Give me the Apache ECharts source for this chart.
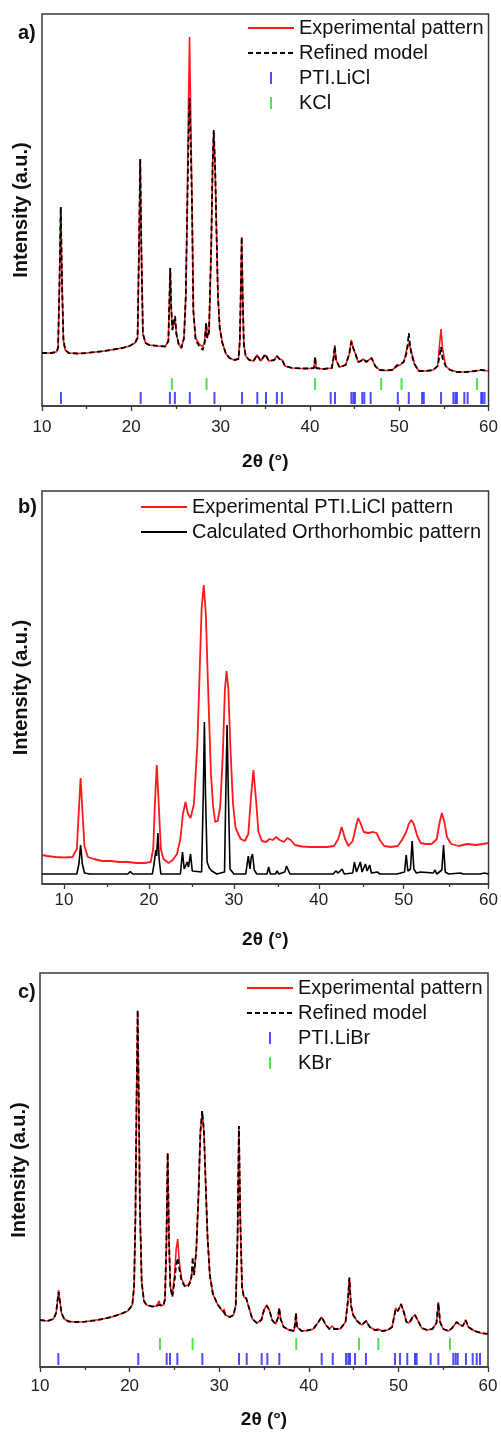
<!DOCTYPE html>
<html><head><meta charset="utf-8">
<script src="https://cdn.jsdelivr.net/npm/echarts@6/dist/echarts.min.js"></script>
<style>html,body{margin:0;padding:0;background:#fff}#c{width:501px;height:1432px}</style>
</head><body><div id="c"></div>
<script>
// ---------- DATA (2θ in degrees, intensity in arbitrary units) ----------
const X_LABELS = [10, 20, 30, 40, 50, 60];
const X_MINOR = [15, 25, 35, 45, 55];

// Panel a) PTI.LiCl refinement
const EXP_A = [[10,53],[11,53],[11.6,54],[11.8,58],[11.95,120],[12.1,199],[12.25,120],[12.4,66],[12.6,56],[13,53],[14,52.5],[15,53],[16,54],[17,55],[18,56.5],[19,58],[19.8,60],[20.4,63],[20.7,68],[20.85,150],[21.0,247],[21.12,160],[21.3,72],[21.6,63],[22,61],[23,60],[23.8,59.5],[24.15,65],[24.25,100],[24.36,138],[24.46,100],[24.6,76],[24.75,82],[24.9,88],[25.05,72],[25.3,62],[25.6,58],[25.9,68],[26.1,110],[26.25,190],[26.4,300],[26.52,369],[26.64,300],[26.8,200],[26.95,95],[27.2,68],[27.6,62],[28.0,59],[28.2,64],[28.38,83],[28.5,68],[28.7,74],[28.95,160],[29.1,240],[29.23,274],[29.38,240],[29.55,170],[29.7,110],[29.9,78],[30.2,63],[30.6,52],[31,48],[31.5,46],[32,47],[32.15,65],[32.25,110],[32.36,169],[32.47,110],[32.6,62],[32.8,50],[33.2,46],[33.7,45],[34.07,51],[34.5,45],[35.0,51],[35.4,45],[36.0,46],[36.3,50],[36.6,47],[36.9,46],[37.2,40],[38,38],[39,37.5],[40,37.5],[40.45,38],[40.58,49],[40.7,38],[41.5,37],[42.45,38],[42.65,48],[42.78,61],[42.92,46],[43.3,39],[44.0,41],[44.4,52],[44.63,66],[44.85,58],[45.1,52],[45.4,44],[45.7,45],[46.0,47],[46.3,44],[46.6,46],[46.9,48],[47.3,40],[47.8,36],[48.5,35.5],[49.2,36],[49.8,40],[50.1,41],[50.5,44],[50.8,55],[51.07,63],[51.35,55],[51.7,42],[52.2,35],[53,35],[53.8,36],[54.3,40],[54.52,62],[54.68,77],[54.84,58],[55.2,40],[55.7,36],[56.5,34],[57.5,34],[58.5,35],[59.2,36],[60,35]];
const MODEL_A = [[10,53],[11,53],[11.6,54],[11.8,58],[11.95,120],[12.1,199],[12.25,120],[12.4,66],[12.6,56],[13,53],[14,52.5],[15,53],[16,54],[17,55],[18,56.5],[19,58],[19.8,60],[20.4,63],[20.7,68],[20.85,150],[21.0,247],[21.12,160],[21.3,72],[21.6,63],[22,61],[23,60],[23.8,59.5],[24.15,65],[24.25,100],[24.36,138],[24.46,100],[24.6,76],[24.75,84],[24.9,90],[25.05,72],[25.3,62],[25.6,58],[25.9,68],[26.1,110],[26.25,190],[26.4,265],[26.52,308],[26.64,265],[26.8,200],[26.95,95],[27.2,66],[27.6,60],[28.0,56],[28.2,62],[28.38,83],[28.5,68],[28.7,74],[28.95,160],[29.1,240],[29.23,276],[29.38,240],[29.55,170],[29.7,110],[29.9,78],[30.2,63],[30.6,52],[31,48],[31.5,46],[32,47],[32.15,65],[32.25,110],[32.36,169],[32.47,110],[32.6,62],[32.8,50],[33.2,46],[33.7,45],[34.07,51],[34.5,45],[35.0,52],[35.4,45],[36.0,46],[36.3,50],[36.6,47],[36.9,46],[37.2,40],[38,38],[39,37.5],[40,37.5],[40.45,38],[40.58,49],[40.7,38],[41.5,37],[42.45,38],[42.65,48],[42.78,60],[42.92,46],[43.3,39],[44.0,41],[44.4,52],[44.63,64],[44.85,58],[45.1,52],[45.4,44],[45.7,45],[46.0,47],[46.3,44],[46.6,46],[46.9,48],[47.3,40],[47.8,36],[48.5,35.5],[49.2,36],[49.8,41],[50.1,42],[50.5,44],[50.8,52],[50.95,62],[51.07,73],[51.2,62],[51.35,52],[51.7,42],[52.2,35],[53,35],[53.8,36],[54.3,40],[54.52,50],[54.68,59],[54.84,48],[55.2,40],[55.7,36],[56.5,34],[57.5,34],[58.5,35],[59.2,36],[60,35]];
const PTI_LICL_A = [12.12,21.05,24.32,24.88,26.55,29.31,32.4,34.11,35.08,36.3,36.86,42.33,42.81,44.64,44.86,45.04,45.86,46.09,46.8,49.84,51.07,52.56,52.75,54.68,56.06,56.29,56.46,57.29,57.66,59.18,59.33,59.55];
const KCL_A = [24.54,28.42,40.58,47.98,50.26,58.69];

// Panel b) experimental vs calculated orthorhombic
const EXP_B = [[7.4,29],[8,28],[9,27],[10,26.5],[11,27],[11.5,35],[11.75,75],[11.95,106],[12.15,75],[12.4,38],[12.8,27],[13.5,25],[14.5,23],[15.5,23],[16.5,22],[17.5,22],[18.5,21],[19.5,21],[20.2,22],[20.5,35],[20.7,80],[20.92,119],[21.15,80],[21.4,35],[21.7,25],[22.3,21],[22.8,24],[23.3,30],[23.7,45],[24.0,70],[24.3,82],[24.6,70],[24.9,66],[25.3,80],[25.7,140],[26.0,220],[26.2,275],[26.45,299],[26.7,270],[26.95,200],[27.3,110],[27.55,78],[27.8,62],[28.1,63],[28.4,78],[28.7,130],[28.95,195],[29.14,213],[29.35,195],[29.6,135],[29.9,80],[30.2,56],[30.8,45],[31.3,43],[31.7,50],[32.0,85],[32.3,114],[32.6,85],[32.9,52],[33.3,43],[33.8,42],[34.2,45],[34.6,44],[35.0,47],[35.4,44],[35.9,42],[36.3,46],[36.7,44],[37.2,39],[38,37.5],[39,37],[40,37],[41,37],[41.8,38],[42.3,45],[42.7,57],[43.1,45],[43.5,38],[44.0,43],[44.4,58],[44.65,66],[44.95,60],[45.3,52],[45.8,51],[46.4,52],[46.8,51],[47.2,44],[47.7,38],[48.5,37],[49.3,38],[49.8,44],[50.3,52],[50.6,60],[50.9,64],[51.2,60],[51.6,48],[52.0,41],[52.6,40],[53.3,40],[53.9,45],[54.2,60],[54.5,71],[54.8,62],[55.1,47],[55.6,40],[56.5,38],[57.5,40],[58.5,39],[59.3,40],[60,41]];
const CALC_B = [[7.4,10],[11.5,10],[11.75,20],[11.95,39],[12.15,20],[12.4,11],[13,10],[17.5,10],[17.8,12.3],[18.1,10],[20.4,10],[20.6,20],[20.8,34],[20.9,28],[21.05,51],[21.2,25],[21.4,10],[23.7,10],[23.95,32],[24.15,15],[24.5,22],[24.65,17],[24.9,30],[25.1,13],[26.2,12],[26.4,90],[26.53,162],[26.66,90],[26.85,22],[27.1,16],[27.4,13],[28.0,10],[28.9,12],[29.05,90],[29.2,159],[29.35,90],[29.55,15],[30.0,10],[31.4,10],[31.7,28],[31.9,15],[32.05,27],[32.2,30],[32.4,14],[32.7,10],[33.9,10],[34.1,17],[34.3,10],[34.9,10],[35.1,13],[35.3,10],[36.0,12],[36.2,18],[36.4,17],[36.6,10],[41.7,10],[42.0,13],[42.3,11],[42.75,15],[43.0,10],[44.0,11],[44.2,22],[44.45,12],[44.9,22],[45.1,12],[45.5,20],[45.7,13],[46.0,19],[46.2,11],[46.9,12],[47.2,10],[49.2,10],[50.1,12],[50.3,29],[50.5,13],[50.8,15],[51.0,43],[51.2,15],[51.5,11],[52.0,12],[53.5,11],[53.7,14],[53.9,10],[54.5,14],[54.7,39],[54.9,12],[55.3,10],[56.7,11],[57.0,10],[59.0,10],[59.2,12],[59.5,11],[60,10]];

// Panel c) PTI.LiBr refinement
const EXP_C = [[10,47],[10.8,46],[11.5,48],[11.8,54],[11.95,66],[12.08,77],[12.22,66],[12.4,54],[12.7,48],[13.2,45.5],[14,45],[15,45.3],[16,46.5],[17,48],[18,50],[19,53],[19.8,56],[20.3,62],[20.5,80],[20.65,150],[20.78,270],[20.9,355],[21.02,270],[21.15,160],[21.35,85],[21.6,66],[21.9,62],[22.5,60.5],[23.0,61],[23.2,63],[23.3,66],[23.45,61],[23.8,62],[23.95,68],[24.1,120],[24.25,214],[24.4,125],[24.55,80],[24.77,72],[25.0,90],[25.2,118],[25.37,128],[25.55,105],[25.8,88],[26.2,81],[26.55,82],[26.85,88],[27.04,100],[27.2,92],[27.45,118],[27.7,175],[27.9,235],[28.1,256],[28.3,235],[28.5,180],[28.7,130],[28.95,92],[29.3,73],[29.8,63],[30.2,58],[30.45,55],[30.55,58],[30.7,52],[31.2,50],[31.6,52],[31.85,62],[32.05,130],[32.2,241],[32.35,150],[32.55,80],[32.75,70],[33.0,69],[33.3,60],[33.7,48],[34.2,44],[34.7,47],[35.0,57],[35.3,62],[35.6,57],[35.9,47],[36.3,43],[36.55,49],[36.7,59],[36.85,48],[37.2,40],[37.8,37],[38.35,36],[38.48,44],[38.57,54],[38.68,40],[39.2,36],[39.8,36.5],[40.5,38],[41.0,44],[41.44,50],[41.9,42],[42.3,38],[42.6,41],[42.9,38],[43.5,38],[44.1,45],[44.35,65],[44.53,90],[44.7,62],[44.95,52],[45.4,46],[45.9,42],[46.4,46],[46.8,40],[47.4,37],[47.7,38],[48.2,36],[48.8,37],[49.3,40],[49.7,59],[49.95,56],[50.29,63],[50.6,55],[50.9,45],[51.2,44],[51.6,50],[51.85,52],[52.2,46],[52.6,39],[53.2,37],[53.8,38],[54.25,44],[54.46,65],[54.65,45],[55,38],[55.6,36],[56.0,39],[56.5,45],[56.9,42],[57.2,41],[57.5,47],[57.8,40],[58.5,36],[59.2,34],[60,33]];
const MODEL_C = [[10,47],[10.8,46],[11.5,48],[11.8,54],[11.95,66],[12.08,75],[12.22,66],[12.4,54],[12.7,48],[13.2,45.5],[14,45],[15,45.3],[16,46.5],[17,48],[18,50],[19,53],[19.8,56],[20.3,62],[20.5,80],[20.65,150],[20.78,270],[20.9,357],[21.02,270],[21.15,160],[21.35,85],[21.6,66],[21.9,62],[22.5,60.5],[23.0,61],[23.3,62],[23.8,62],[23.95,68],[24.1,120],[24.25,214],[24.4,125],[24.55,80],[24.77,70],[25.0,85],[25.2,102],[25.37,109],[25.55,98],[25.8,86],[26.2,80],[26.55,81],[26.85,86],[26.95,95],[27.04,110],[27.13,95],[27.2,92],[27.45,118],[27.7,175],[27.9,235],[28.1,256],[28.3,235],[28.5,180],[28.7,130],[28.95,92],[29.3,73],[29.8,63],[30.2,58],[30.45,56],[30.55,56],[30.7,52],[31.2,50],[31.6,52],[31.85,62],[32.05,130],[32.2,241],[32.35,150],[32.55,80],[32.75,70],[33.0,69],[33.3,60],[33.7,48],[34.2,44],[34.7,47],[35.0,57],[35.3,61],[35.6,57],[35.9,47],[36.3,43],[36.55,49],[36.7,59],[36.85,48],[37.2,40],[37.8,37],[38.35,36],[38.48,44],[38.57,54],[38.68,40],[39.2,36],[39.8,36.5],[40.5,38],[41.0,44],[41.44,50],[41.9,42],[42.3,38],[42.6,38],[42.9,38],[43.5,38],[44.1,45],[44.35,65],[44.53,89],[44.7,62],[44.95,52],[45.4,46],[45.9,42],[46.4,46],[46.8,40],[47.4,37],[47.7,37],[48.2,36],[48.8,37],[49.3,40],[49.7,58],[49.95,56],[50.29,63],[50.6,55],[50.9,45],[51.2,44],[51.6,50],[51.85,52],[52.2,46],[52.6,39],[53.2,37],[53.8,38],[54.25,44],[54.46,64],[54.65,45],[55,38],[55.6,36],[56.0,39],[56.5,45],[56.9,42],[57.2,41],[57.5,47],[57.8,40],[58.5,36],[59.2,34],[60,33]];
const PTI_LIBR_C = [12.05,20.97,24.14,24.51,25.33,28.12,32.21,33.07,34.74,35.37,36.71,41.44,42.67,44.15,44.41,44.6,45.16,46.38,49.62,50.18,50.99,51.85,52.04,53.6,54.46,56.13,56.39,56.62,57.54,58.29,58.74,59.11];
const KBR_C = [23.39,27.04,38.6,45.6,47.76,55.76];

// ---------- STYLE ----------
const FONT = '"Liberation Sans", Arial, Helvetica, sans-serif';
const FRAME = '#3a3a3a';
const RED = '#ff1a1a', BLACK = '#000000', BLUE = '#2020ff', GREEN = '#22dd22';
const TICK_ICON = 'path://M0,6L0.01,6M22,0L24,0L24,12L22,12ZM45.99,6L46,6';
const NO_SYMBOL = {opacity: 0};

const GRIDS = [
  {left: 42, top: 14, width: 448, height: 392},
  {left: 42, top: 491, width: 450, height: 393},
  {left: 40, top: 973, width: 448, height: 394},
  {left: 42, top: 491, width: 450, height: 393} // overlay for panel b minor ticks
];

function xAxisMain(gi, margin, nameGap, custom) {
  const ax = {
    type: 'value', gridIndex: gi, max: 60,
    axisLine: {show: true, onZero: false, lineStyle: {color: FRAME, width: 1.5}},
    axisTick: {show: true, length: 5, lineStyle: {color: FRAME, width: 1.3}},
    splitLine: {show: false},
    axisLabel: {fontSize: 17, color: '#222', fontFamily: FONT, margin: margin},
    name: '2θ (°)', nameLocation: 'middle', nameGap: nameGap,
    nameTextStyle: {fontSize: 19, fontWeight: 'bold', color: '#111', fontFamily: FONT}
  };
  if (custom) {
    ax.min = 7.4;
    ax.axisLabel.customValues = X_LABELS;
    ax.axisTick.customValues = X_LABELS;
  } else {
    ax.min = 10; ax.interval = 10;
    ax.minorTick = {show: true, splitNumber: 2, length: 3, lineStyle: {color: FRAME, width: 1.3}};
  }
  return ax;
}
function yAxis(gi, h) {
  return {
    type: 'value', gridIndex: gi, min: 0, max: h,
    axisLine: {show: false}, axisTick: {show: false}, axisLabel: {show: false}, splitLine: {show: false},
    name: 'Intensity (a.u.)', nameLocation: 'middle', nameGap: 11,
    nameTextStyle: {fontSize: 20, fontWeight: 'bold', color: '#111', fontFamily: FONT}
  };
}
function lineS(name, data, xi, color, width, dash, z) {
  return {type: 'line', name, data, xAxisIndex: xi, yAxisIndex: xi, symbol: 'none', showSymbol: false,
    lineStyle: {color, width, type: dash || 'solid'}, itemStyle: {color}, z, silent: true};
}
function tickS(name, positions, xi, row, color) {
  return {type: 'scatter', name, xAxisIndex: xi, yAxisIndex: xi,
    data: positions.map(p => [p, row]), symbol: 'rect', symbolSize: [2, 12],
    itemStyle: {color}, z: 4, silent: true};
}
function legend(left, top, items) {
  return {orient: 'vertical', left, top, padding: 0, itemWidth: 46, itemHeight: 12, itemGap: 5,
    selectedMode: false, data: items,
    textStyle: {fontSize: 20, color: '#111', fontFamily: FONT, lineHeight: 20}};
}
const titleStyle = {fontSize: 20, fontWeight: 'bold', color: '#111', fontFamily: FONT};

const option = {
  animation: false,
  backgroundColor: '#fff',
  textStyle: {fontFamily: FONT},
  title: [
    {text: 'a)', left: 18, top: 23, padding: 0, textStyle: titleStyle},
    {text: 'b)', left: 18, top: 497, padding: 0, textStyle: titleStyle},
    {text: 'c)', left: 18, top: 982, padding: 0, textStyle: titleStyle}
  ],
  grid: GRIDS.map((g, i) => Object.assign({show: i < 3, borderColor: FRAME, borderWidth: 1.5, backgroundColor: 'transparent'}, g)),
  xAxis: [
    xAxisMain(0, 13, 46, false),
    xAxisMain(1, 8, 46, true),
    xAxisMain(2, 11, 43, false),
    {type: 'value', gridIndex: 3, min: 7.4, max: 60,
      axisLine: {show: false}, splitLine: {show: false}, axisLabel: {show: false},
      axisTick: {show: true, length: 3, customValues: X_MINOR, lineStyle: {color: FRAME, width: 1.3}}}
  ],
  yAxis: [yAxis(0, 392), yAxis(1, 393), yAxis(2, 394),
    {type: 'value', gridIndex: 3, min: 0, max: 393, show: false}],
  legend: [
    legend(247, 18, [{name: 'Experimental pattern', itemStyle: NO_SYMBOL}, {name: 'Refined model', itemStyle: NO_SYMBOL}, {name: 'PTI.LiCl', icon: TICK_ICON}, {name: 'KCl', icon: TICK_ICON}]),
    legend(140, 497, [{name: 'Experimental PTI.LiCl pattern', itemStyle: NO_SYMBOL}, {name: 'Calculated Orthorhombic pattern', itemStyle: NO_SYMBOL}]),
    legend(246, 978, [{name: 'Experimental pattern', itemStyle: NO_SYMBOL}, {name: 'Refined model', itemStyle: NO_SYMBOL}, {name: 'PTI.LiBr', icon: TICK_ICON}, {name: 'KBr', icon: TICK_ICON}])
  ],
  series: [
    lineS('Experimental pattern', EXP_A, 0, RED, 1.6, null, 2),
    lineS('Refined model', MODEL_A, 0, BLACK, 1.8, [5, 3], 3),
    tickS('PTI.LiCl', PTI_LICL_A, 0, 8, BLUE),
    tickS('KCl', KCL_A, 0, 22, GREEN),
    lineS('Experimental PTI.LiCl pattern', EXP_B, 1, RED, 1.8, null, 2),
    lineS('Calculated Orthorhombic pattern', CALC_B, 1, BLACK, 1.6, null, 3),
    lineS('Experimental pattern', EXP_C, 2, RED, 1.6, null, 2),
    lineS('Refined model', MODEL_C, 2, BLACK, 1.8, [5, 3], 3),
    tickS('PTI.LiBr', PTI_LIBR_C, 2, 8, BLUE),
    tickS('KBr', KBR_C, 2, 23, GREEN)
  ]
};
const chart = echarts.init(document.getElementById('c'), null, {renderer: 'canvas'});
chart.setOption(option);
</script></body></html>
